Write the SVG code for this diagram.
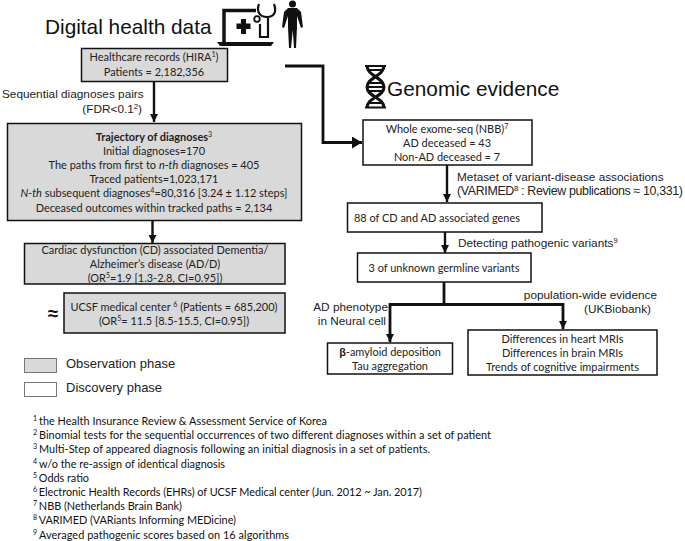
<svg xmlns="http://www.w3.org/2000/svg" width="685" height="541" viewBox="0 0 685 541">
<style>
.g{fill:#d9d9d9;stroke:#111;stroke-width:1.5}
.w{fill:#fff;stroke:#111;stroke-width:1.5}
.c{font:10.95px Lato,"Liberation Sans",sans-serif;fill:#222;text-anchor:middle}
.a{font:11.8px "Liberation Sans",Arial,sans-serif;fill:#222}
.b{font:13px "Liberation Sans",Arial,sans-serif;fill:#222}
.f{font:10.9px Lato,"Liberation Sans",sans-serif;fill:#111}
.h{font:20.8px "Liberation Sans",Arial,sans-serif;fill:#111}
.l{fill:none;stroke:#111;stroke-width:2.4}
.t{fill:none;stroke:#111;stroke-width:2.8}
.s{font-size:65%;baseline-shift:super}
</style>
<defs>
<marker id="ah" markerUnits="userSpaceOnUse" markerWidth="10" markerHeight="8" refX="8" refY="4" orient="auto"><path d="M0 0L8 4L0 8z" fill="#111"/></marker>
<marker id="ab" markerUnits="userSpaceOnUse" markerWidth="12" markerHeight="12" refX="10" refY="6" orient="auto"><path d="M0 0L10 6L0 12z" fill="#111"/></marker>
</defs>
<rect width="685" height="541" fill="#fff"/>
<g id="connectors">
<path class="l" d="M154 82V122" marker-end="url(#ah)"/>
<path class="l" d="M152.500 220V243" marker-end="url(#ah)"/>
<path class="t" d="M285 66H323V142.500H362" marker-end="url(#ab)"/>
<path class="l" d="M447 165V202" marker-end="url(#ah)"/>
<path class="l" d="M445 232V253" marker-end="url(#ah)"/>
<path class="t" d="M444 282V304.500"/>
<path class="t" d="M444 304.500H390V342" marker-end="url(#ah)"/>
<path class="t" d="M444 304.500H563V329" marker-end="url(#ah)"/>
</g>
<g id="title-digital"><text class="h" x="45" y="34">Digital health data</text></g>
<g id="icon-laptop">
<path d="M256 10.500H224V42" fill="none" stroke="#111" stroke-width="3.500"/>
<path d="M217 42H274L271 46H220z" fill="#111"/>
<path d="M241 19h5v4.500h4.500v5.500h-4.500v5h-5v-5h-4.500v-5.500h4.500z" fill="#111"/>
<path d="M259 4C256 12 260 17 267 17C274 17 277 12 274 4M268 17V37H260V24" fill="none" stroke="#111" stroke-width="2.200"/>
<circle cx="257" cy="19" r="2.800" fill="none" stroke="#111" stroke-width="1.800"/>
</g>
<g id="icon-person">
<circle cx="292.500" cy="4" r="3.500" fill="#111"/>
<path d="M288 8H297L301 12L303 27L301 28L297 16V27L296 48H294L292.800 30L291 48H289L288 27V16L284 28L282 27L284 12z" fill="#111"/>
</g>
<g id="node-hira">
<rect class="g" x="81.500" y="48.500" width="146" height="33"/>
<text class="c" x="154" y="61">Healthcare records (HIRA<tspan class="s">1</tspan>)</text>
<text class="c" x="154" y="76">Patients = 2,182,356</text>
</g>
<text class="a" x="2" y="98">Sequential diagnoses pairs</text>
<text class="a" x="142" y="113" text-anchor="end">(FDR&lt;0.1<tspan class="s">2</tspan>)</text>
<g id="node-trajectory">
<rect class="g" x="7.500" y="123.500" width="294" height="97"/>
<text class="c" x="154" y="141"><tspan font-weight="700">Trajectory of diagnoses</tspan><tspan class="s">3</tspan></text>
<text class="c" x="154" y="155">Initial diagnoses=170</text>
<text class="c" x="154" y="169">The paths from first to <tspan font-style="italic">n-th</tspan> diagnoses = 405</text>
<text class="c" x="154" y="183">Traced patients=1,023,171</text>
<text class="c" x="154" y="197"><tspan font-style="italic">N-th</tspan> subsequent diagnoses<tspan class="s">4</tspan>=80,316 [3.24 ± 1.12 steps]</text>
<text class="c" x="154" y="212">Deceased outcomes within tracked paths = 2,134</text>
</g>
<g id="node-cardiac">
<rect class="g" x="24.500" y="243.500" width="260.500" height="40.500"/>
<text class="c" x="155" y="254">Cardiac dysfunction (CD) associated Dementia/</text>
<text class="c" x="155" y="268">Alzheimer’s disease (AD/D)</text>
<text class="c" x="155" y="282">(OR<tspan class="s">5</tspan>=1.9 [1.3-2.8, CI=0.95])</text>
</g>
<text x="53" y="320" text-anchor="middle" font-family="Liberation Sans,sans-serif" font-size="19" font-weight="700" fill="#111">≈</text>
<g id="node-ucsf">
<rect class="g" x="64" y="293" width="221" height="40"/>
<text class="c" x="174" y="311">UCSF medical center <tspan class="s">6</tspan> (Patients = 685,200)</text>
<text class="c" x="174" y="325">(OR<tspan class="s">5</tspan>= 11.5 [8.5-15.5, CI=0.95])</text>
</g>
<g id="legend-observation">
<rect x="24.500" y="358.500" width="32" height="14" fill="#d9d9d9" stroke="#777"/>
<text class="b" x="66" y="368">Observation phase</text>
</g>
<g id="legend-discovery">
<rect x="24.500" y="382.500" width="32" height="14" fill="#fff" stroke="#777"/>
<text class="b" x="66" y="392">Discovery phase</text>
</g>
<g id="title-genomic"><text class="h" x="387" y="96">Genomic evidence</text></g>
<g id="icon-dna" fill="none" stroke="#111" stroke-width="3">
<path d="M367 65C367 77 384 77 384 87C384 97 367 97 367 108"/>
<path d="M384 65C384 77 367 77 367 87C367 97 384 97 384 108"/>
<path d="M365 66H386M368 70H383M369 83H382M367 87H384M369 91H382M368 103H383M365 107.500H386" stroke-width="1.800"/>
</g>
<g id="node-wes">
<rect class="w" x="363" y="120" width="169" height="45"/>
<text class="c" x="447" y="133">Whole exome-seq (NBB)<tspan class="s">7</tspan></text>
<text class="c" x="447" y="147">AD deceased = 43</text>
<text class="c" x="447" y="161">Non-AD deceased = 7</text>
</g>
<text class="a" x="457" y="181">Metaset of variant-disease associations</text>
<text class="a" x="457" y="195" style="font-size:12.4px" textLength="226">(VARIMED<tspan class="s">8</tspan> : Review publications ≈ 10,331)</text>
<g id="node-genes">
<rect class="w" x="347.500" y="203" width="194.500" height="29"/>
<text class="c" x="354" y="222" style="text-anchor:start">88 of CD and AD associated genes</text>
</g>
<text class="a" x="458" y="247">Detecting pathogenic variants<tspan class="s">9</tspan></text>
<g id="node-variants">
<rect class="w" x="357.500" y="253" width="173.500" height="29"/>
<text class="c" x="444" y="272">3 of unknown germline variants</text>
</g>
<text class="a" x="388" y="311" text-anchor="end">AD phenotype</text>
<text class="a" x="386" y="325" text-anchor="end">in Neural cell</text>
<text class="a" x="657" y="299" text-anchor="end">population-wide evidence</text>
<text class="a" x="651" y="313" text-anchor="end">(UKBiobank)</text>
<g id="node-amyloid">
<rect class="w" x="327.500" y="343" width="125" height="31"/>
<text class="c" x="390" y="356"><tspan font-weight="700" font-family="Liberation Sans">β</tspan>-amyloid deposition</text>
<text class="c" x="390" y="370">Tau aggregation</text>
</g>
<g id="node-mri">
<rect class="w" x="468" y="330" width="189" height="45"/>
<text class="c" x="562.500" y="343">Differences in heart MRIs</text>
<text class="c" x="562.500" y="357">Differences in brain MRIs</text>
<text class="c" x="562.500" y="371">Trends of cognitive impairments</text>
</g>
<g id="footnotes">
<text class="f" x="33" y="425" textLength="294"><tspan class="s">1 </tspan>the Health Insurance Review &amp; Assessment Service of Korea</text>
<text class="f" x="33" y="439.200" textLength="458"><tspan class="s">2 </tspan>Binomial tests for the sequential occurrences of two different diagnoses within a set of patient</text>
<text class="f" x="33" y="453.400" textLength="397"><tspan class="s">3 </tspan>Multi-Step of appeared diagnosis following an initial diagnosis in a set of patients.</text>
<text class="f" x="33" y="467.600" textLength="192"><tspan class="s">4 </tspan>w/o the re-assign of identical diagnosis</text>
<text class="f" x="33" y="481.800" textLength="56"><tspan class="s">5 </tspan>Odds ratio</text>
<text class="f" x="33" y="496" textLength="389"><tspan class="s">6 </tspan>Electronic Health Records (EHRs) of UCSF Medical center (Jun. 2012 ~ Jan. 2017)</text>
<text class="f" x="33" y="510.200" textLength="149"><tspan class="s">7 </tspan>NBB (Netherlands Brain Bank)</text>
<text class="f" x="33" y="524.400" textLength="203"><tspan class="s">8 </tspan>VARIMED (VARiants Informing MEDicine)</text>
<text class="f" x="33" y="538.600" textLength="256"><tspan class="s">9 </tspan>Averaged pathogenic scores based on 16 algorithms</text>
</g>
</svg>
